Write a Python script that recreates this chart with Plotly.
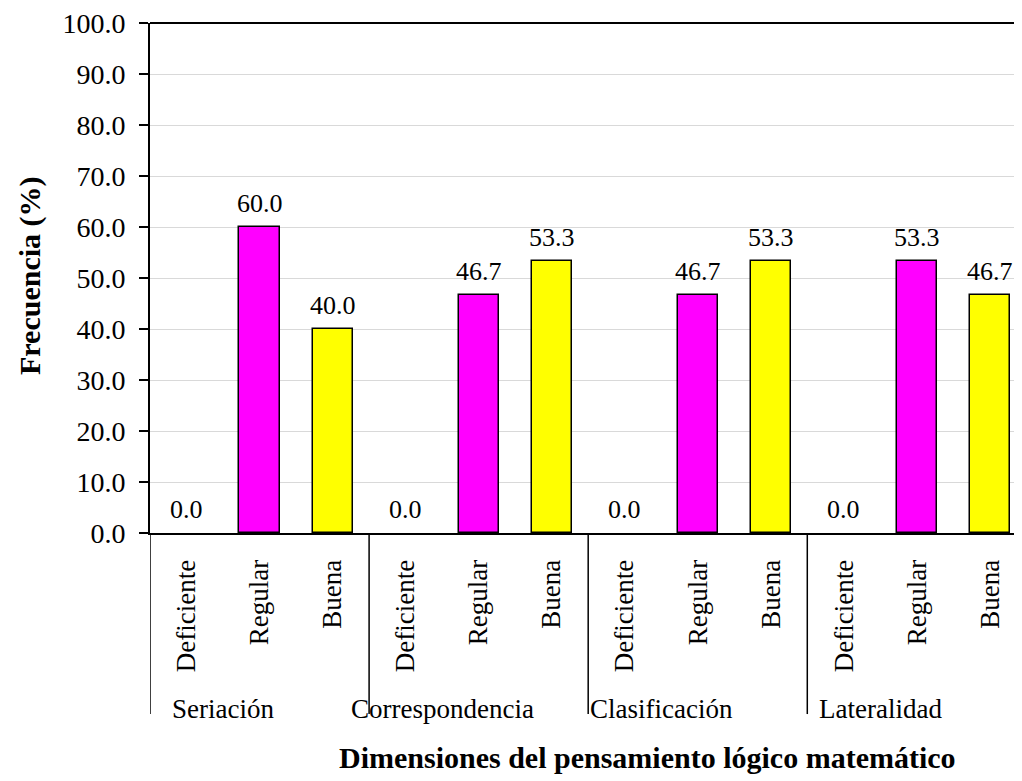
import plotly.graph_objects as go

dimensions = ["Seriación", "Correspondencia", "Clasificación", "Lateralidad"]
levels = ["Deficiente", "Regular", "Buena"]
values = {
    "Seriación": [0.0, 60.0, 40.0],
    "Correspondencia": [0.0, 46.7, 53.3],
    "Clasificación": [0.0, 46.7, 53.3],
    "Lateralidad": [0.0, 53.3, 46.7],
}
level_colors = {"Deficiente": "#FFFFFF", "Regular": "#FF00FF", "Buena": "#FFFF00"}

FONT = "Liberation Serif, Times New Roman, serif"

xs, ys, cols, lws, ticktext = [], [], [], [], []
for g, d in enumerate(dimensions):
    for j, lv in enumerate(levels):
        xs.append(g * len(levels) + j)
        ys.append(values[d][j])
        cols.append(level_colors[lv])
        lws.append(1.5 if values[d][j] > 0 else 0)
        ticktext.append(lv)

fig = go.Figure()
fig.add_trace(go.Bar(
    x=xs, y=ys, width=0.55,
    marker=dict(color=cols, line=dict(color="black", width=lws)),
    cliponaxis=False, showlegend=False,
))

shapes = []
n = len(levels)
for g in range(len(dimensions)):
    shapes.append(dict(type="line", xref="x", yref="paper",
                       x0=g * n - 0.5, x1=g * n - 0.5, y0=0, y1=-0.355,
                       line=dict(color="black", width=1.5)))
shapes.append(dict(type="line", xref="paper", yref="paper", x0=0, x1=1, y0=1, y1=1,
                   line=dict(color="black", width=2)))

annotations = []
for x, y in zip(xs, ys):
    annotations.append(dict(x=x, y=y, xref="x", yref="y", text=f"{y:.1f}",
                            showarrow=False, xanchor="center", yanchor="bottom",
                            yshift=7, font=dict(family=FONT, size=26, color="black")))
for g, d in enumerate(dimensions):
    annotations.append(dict(x=g * n + 0.5, y=-0.345, xref="x", yref="paper",
                            text=d, showarrow=False, xanchor="center", yanchor="middle",
                            font=dict(family=FONT, size=27, color="black")))
annotations.append(dict(x=0.571, y=-0.44, xref="paper", yref="paper",
                        text="<b>Dimensiones del pensamiento lógico matemático</b>",
                        showarrow=False, xanchor="center", yanchor="middle",
                        font=dict(family=FONT, size=30, color="black")))
annotations.append(dict(x=-0.137, y=0.505, xref="paper", yref="paper",
                        text="<b>Frecuencia (%)</b>", textangle=-90,
                        showarrow=False, xanchor="center", yanchor="middle",
                        font=dict(family=FONT, size=30, color="black")))

fig.update_layout(
    width=1014, height=773,
    margin=dict(l=142, r=0, t=4, b=248),
    plot_bgcolor="white", paper_bgcolor="white",
    shapes=shapes, annotations=annotations,
    bargap=0,
)
fig.update_xaxes(
    range=[-0.5, 11.44], tickmode="array", tickvals=xs, ticktext=ticktext,
    tickangle=-90, ticks="", showline=True, linecolor="black", linewidth=2,
    showgrid=False, zeroline=False, ticklabelstandoff=14,
    tickfont=dict(family=FONT, size=27, color="black"),
)
fig.update_yaxes(
    range=[0, 100], dtick=10, tickformat=".1f", ticks="outside", ticklen=9,
    tickcolor="black", tickwidth=2, ticklabeloverflow="allow", ticklabelstandoff=8,
    showline=True, linecolor="black", linewidth=2,
    showgrid=True, gridcolor="#D9D9D9", gridwidth=1, zeroline=False,
    tickfont=dict(family=FONT, size=28, color="black"),
)

fig.write_html("out.html")
